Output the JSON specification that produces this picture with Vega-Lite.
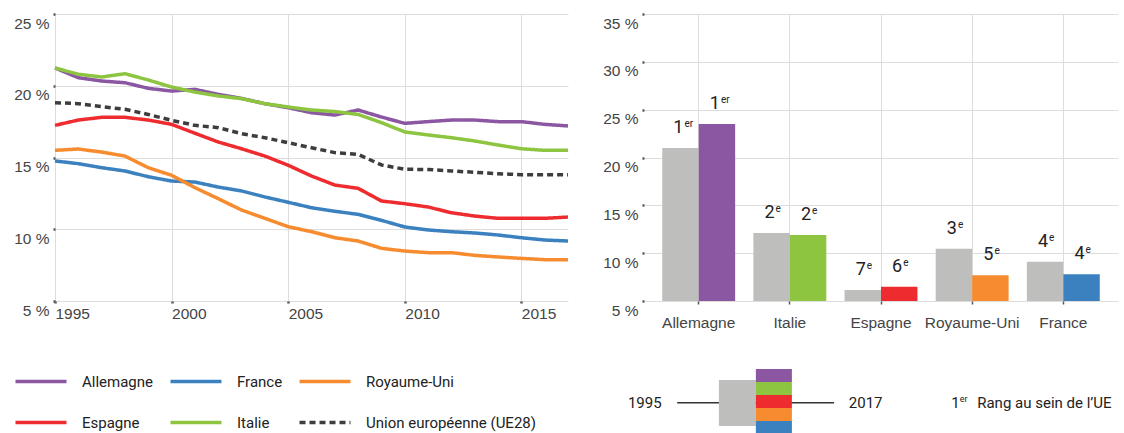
{
  "$schema": "https://vega.github.io/schema/vega-lite/v6.json",
  "background": "white",
  "padding": {"left": 13, "top": 12, "right": 4, "bottom": 0},
  "config": {
    "view": {"stroke": null},
    "axis": {
      "labelFont": "Liberation Sans",
      "labelFontSize": 15.5,
      "labelColor": "#444444",
      "gridColor": "#dddddd",
      "gridWidth": 1,
      "tickColor": "#555555",
      "domain": false,
      "title": null
    }
  },
  "datasets": {
    "lines": [
      {"year": 1995, "Allemagne": 21.24, "France": 14.76, "Royaume-Uni": 15.5, "Espagne": 17.24, "Italie": 21.24, "Union européenne (UE28)": 18.82},
      {"year": 1996, "Allemagne": 20.56, "France": 14.57, "Royaume-Uni": 15.59, "Espagne": 17.61, "Italie": 20.8, "Union européenne (UE28)": 18.75},
      {"year": 1997, "Allemagne": 20.33, "France": 14.29, "Royaume-Uni": 15.38, "Espagne": 17.8, "Italie": 20.61, "Union européenne (UE28)": 18.54},
      {"year": 1998, "Allemagne": 20.21, "France": 14.06, "Royaume-Uni": 15.1, "Espagne": 17.8, "Italie": 20.84, "Union européenne (UE28)": 18.36},
      {"year": 1999, "Allemagne": 19.82, "France": 13.66, "Royaume-Uni": 14.29, "Espagne": 17.61, "Italie": 20.4, "Union européenne (UE28)": 18.0},
      {"year": 2000, "Allemagne": 19.63, "France": 13.36, "Royaume-Uni": 13.76, "Espagne": 17.31, "Italie": 19.91, "Union européenne (UE28)": 17.59},
      {"year": 2001, "Allemagne": 19.75, "France": 13.29, "Royaume-Uni": 12.9, "Espagne": 16.69, "Italie": 19.56, "Union européenne (UE28)": 17.24},
      {"year": 2002, "Allemagne": 19.4, "France": 12.94, "Royaume-Uni": 12.13, "Espagne": 16.08, "Italie": 19.29, "Union européenne (UE28)": 17.08},
      {"year": 2003, "Allemagne": 19.12, "France": 12.67, "Royaume-Uni": 11.34, "Espagne": 15.61, "Italie": 19.1, "Union européenne (UE28)": 16.66},
      {"year": 2004, "Allemagne": 18.75, "France": 12.25, "Royaume-Uni": 10.76, "Espagne": 15.1, "Italie": 18.75, "Union européenne (UE28)": 16.38},
      {"year": 2005, "Allemagne": 18.47, "France": 11.88, "Royaume-Uni": 10.18, "Espagne": 14.46, "Italie": 18.52, "Union européenne (UE28)": 16.03},
      {"year": 2006, "Allemagne": 18.12, "France": 11.5, "Royaume-Uni": 9.83, "Espagne": 13.71, "Italie": 18.31, "Union européenne (UE28)": 15.68},
      {"year": 2007, "Allemagne": 17.96, "France": 11.25, "Royaume-Uni": 9.41, "Espagne": 13.08, "Italie": 18.2, "Union européenne (UE28)": 15.34},
      {"year": 2008, "Allemagne": 18.31, "France": 11.04, "Royaume-Uni": 9.18, "Espagne": 12.85, "Italie": 18.0, "Union européenne (UE28)": 15.22},
      {"year": 2009, "Allemagne": 17.82, "France": 10.62, "Royaume-Uni": 8.67, "Espagne": 11.97, "Italie": 17.43, "Union européenne (UE28)": 14.48},
      {"year": 2010, "Allemagne": 17.38, "France": 10.16, "Royaume-Uni": 8.48, "Espagne": 11.78, "Italie": 16.78, "Union européenne (UE28)": 14.18},
      {"year": 2011, "Allemagne": 17.5, "France": 9.95, "Royaume-Uni": 8.37, "Espagne": 11.55, "Italie": 16.57, "Union européenne (UE28)": 14.16},
      {"year": 2012, "Allemagne": 17.61, "France": 9.83, "Royaume-Uni": 8.37, "Espagne": 11.15, "Italie": 16.38, "Union européenne (UE28)": 14.06},
      {"year": 2013, "Allemagne": 17.61, "France": 9.74, "Royaume-Uni": 8.18, "Espagne": 10.92, "Italie": 16.15, "Union européenne (UE28)": 13.97},
      {"year": 2014, "Allemagne": 17.5, "France": 9.6, "Royaume-Uni": 8.07, "Espagne": 10.76, "Italie": 15.87, "Union européenne (UE28)": 13.87},
      {"year": 2015, "Allemagne": 17.5, "France": 9.41, "Royaume-Uni": 7.97, "Espagne": 10.76, "Italie": 15.61, "Union européenne (UE28)": 13.8},
      {"year": 2016, "Allemagne": 17.31, "France": 9.25, "Royaume-Uni": 7.88, "Espagne": 10.76, "Italie": 15.5, "Union européenne (UE28)": 13.8},
      {"year": 2017, "Allemagne": 17.2, "France": 9.18, "Royaume-Uni": 7.88, "Espagne": 10.85, "Italie": 15.5, "Union européenne (UE28)": 13.8}
    ],
    "bars": [
      {"country": "Allemagne", "period": "1995", "value": 21.0, "rank": "1", "suffix": "er"},
      {"country": "Allemagne", "period": "2017", "value": 23.5, "rank": "1", "suffix": "er"},
      {"country": "Italie", "period": "1995", "value": 12.1, "rank": "2", "suffix": "e"},
      {"country": "Italie", "period": "2017", "value": 11.9, "rank": "2", "suffix": "e"},
      {"country": "Espagne", "period": "1995", "value": 6.15, "rank": "7", "suffix": "e"},
      {"country": "Espagne", "period": "2017", "value": 6.5, "rank": "6", "suffix": "e"},
      {"country": "Royaume-Uni", "period": "1995", "value": 10.45, "rank": "3", "suffix": "e"},
      {"country": "Royaume-Uni", "period": "2017", "value": 7.7, "rank": "5", "suffix": "e"},
      {"country": "France", "period": "1995", "value": 9.1, "rank": "4", "suffix": "e"},
      {"country": "France", "period": "2017", "value": 7.8, "rank": "4", "suffix": "e"}
    ]
  },
  "resolve": {"scale": {"color": "independent"}},
  "spacing": 32,
  "hconcat": [
    {
      "width": 513,
      "height": 287,
      "data": {"name": "lines"},
      "transform": [
        {"fold": ["Allemagne", "France", "Royaume-Uni", "Espagne", "Italie", "Union européenne (UE28)"], "as": ["country", "value"]}
      ],
      "mark": {"type": "line", "strokeWidth": 3.5, "strokeJoin": "round"},
      "encoding": {
        "x": {
          "field": "year", "type": "quantitative",
          "scale": {"domain": [1995, 2017], "nice": false, "zero": false},
          "axis": {"values": [1995, 2000, 2005, 2010, 2015], "format": "d", "labelAlign": "left", "labelFlush": false, "labelBaseline": "top", "tickSize": 2, "tickWidth": 2.5, "labelPadding": 3, "grid": true}
        },
        "y": {
          "field": "value", "type": "quantitative",
          "scale": {"domain": [5, 25], "nice": false, "zero": false},
          "axis": {"values": [5, 10, 15, 20, 25], "labelExpr": "datum.value + ' %'", "labelBaseline": "top", "labelOffset": 2, "tickSize": 2, "tickWidth": 2.5, "labelPadding": 4, "grid": true}
        },
        "color": {
          "field": "country", "type": "nominal",
          "scale": {
            "domain": ["Allemagne", "France", "Royaume-Uni", "Espagne", "Italie", "Union européenne (UE28)"],
            "range": ["#8B56A2", "#3B80BF", "#F68B2F", "#EE2C30", "#8DC540", "#3d3d3d"]
          },
          "legend": {
            "title": null, "orient": "none", "legendX": -26, "legendY": 355.5, "columns": 3, "direction": "horizontal",
            "symbolType": "M-2.5,0H2.5", "symbolSize": 416, "symbolStrokeWidth": 3.5,
            "labelFont": "Roboto, sans-serif", "labelFontSize": 15, "labelColor": "#222222", "labelLimit": 400,
            "labelOffset": 29, "columnPadding": 9, "rowPadding": 21, "padding": 0,
            "encode": {"symbols": {"update": {"strokeDash": {"signal": "datum.value === 'Union européenne (UE28)' ? [6, 4] : [1, 0]"}}}}
          }
        },
        "strokeDash": {
          "field": "country", "type": "nominal",
          "scale": {
            "domain": ["Allemagne", "France", "Royaume-Uni", "Espagne", "Italie", "Union européenne (UE28)"],
            "range": [[1, 0], [1, 0], [1, 0], [1, 0], [1, 0], [6, 4]]
          },
          "legend": null
        }
      }
    },
    {
      "spacing": 38,
      "vconcat": [
        {
          "width": 474,
          "height": 287,
          "data": {"name": "bars"},
          "encoding": {
            "x": {
              "field": "country", "type": "nominal",
              "sort": ["Allemagne", "Italie", "Espagne", "Royaume-Uni", "France"],
              "scale": {"paddingInner": 0.2, "paddingOuter": 0.2},
              "axis": {"labelAngle": 0, "tickSize": 3, "tickWidth": 1.5, "labelPadding": 11, "grid": true, "labelBaseline": "top"}
            },
            "xOffset": {"field": "period", "type": "nominal", "scale": {"paddingInner": 0, "paddingOuter": 0}},
            "y": {
              "field": "value", "type": "quantitative",
              "scale": {"domain": [5, 35], "nice": false, "zero": false},
              "axis": {"values": [5, 10, 15, 20, 25, 30, 35], "labelExpr": "datum.value + ' %'", "labelBaseline": "top", "labelOffset": 2, "tickSize": 2, "tickWidth": 2.5, "labelPadding": 4, "grid": true}
            }
          },
          "layer": [
            {
              "mark": {"type": "bar"},
              "encoding": {
                "y2": {"datum": 5},
                "color": {
                  "condition": {"test": "datum.period === '1995'", "value": "#BEBEBC"},
                  "field": "country", "type": "nominal",
                  "scale": {
                    "domain": ["Allemagne", "Italie", "Espagne", "Royaume-Uni", "France"],
                    "range": ["#8B56A2", "#8DC540", "#EE2C30", "#F68B2F", "#3B80BF"]
                  },
                  "legend": null
                }
              }
            },
            {
              "mark": {"type": "text", "align": "right", "baseline": "alphabetic", "dx": 3, "dy": -15, "font": "Roboto, sans-serif", "fontSize": 18, "color": "#222222"},
              "encoding": {"text": {"field": "rank"}}
            },
            {
              "mark": {"type": "text", "align": "left", "baseline": "alphabetic", "dx": 4, "dy": -21, "font": "Roboto, sans-serif", "fontSize": 10, "color": "#222222"},
              "encoding": {"text": {"field": "suffix"}}
            }
          ]
        },
        {
          "width": 474,
          "height": 65,
          "encoding": {
            "x": {"type": "quantitative", "scale": {"domain": [0, 100], "nice": false, "zero": false}, "axis": null},
            "y": {"type": "quantitative", "scale": {"domain": [0, 5], "nice": false, "zero": false}, "axis": null}
          },
          "layer": [
            {
              "data": {"values": [{"start": 7, "end": 40.1, "level": 2.4}]},
              "mark": {"type": "rule", "color": "#333333", "strokeWidth": 1.5},
              "encoding": {
                "x": {"field": "start", "type": "quantitative"},
                "x2": {"field": "end"},
                "y": {"field": "level", "type": "quantitative"}
              }
            },
            {
              "data": {"values": [{"start": 15.8, "end": 23.6, "lo": 0.62, "hi": 4.15}]},
              "mark": {"type": "rect", "color": "#BEBEBC"},
              "encoding": {
                "x": {"field": "start", "type": "quantitative"},
                "x2": {"field": "end"},
                "y": {"field": "lo", "type": "quantitative"},
                "y2": {"field": "hi"}
              }
            },
            {
              "data": {"values": [
                {"country": "Allemagne", "start": 23.6, "end": 31.2, "lo": 4, "hi": 5},
                {"country": "Italie", "start": 23.6, "end": 31.2, "lo": 3, "hi": 4},
                {"country": "Espagne", "start": 23.6, "end": 31.2, "lo": 2, "hi": 3},
                {"country": "Royaume-Uni", "start": 23.6, "end": 31.2, "lo": 1, "hi": 2},
                {"country": "France", "start": 23.6, "end": 31.2, "lo": 0, "hi": 1}
              ]},
              "mark": {"type": "rect"},
              "encoding": {
                "x": {"field": "start", "type": "quantitative"},
                "x2": {"field": "end"},
                "y": {"field": "lo", "type": "quantitative"},
                "y2": {"field": "hi"},
                "color": {
                  "field": "country", "type": "nominal",
                  "scale": {
                    "domain": ["Allemagne", "Italie", "Espagne", "Royaume-Uni", "France"],
                    "range": ["#8B56A2", "#8DC540", "#EE2C30", "#F68B2F", "#3B80BF"]
                  },
                  "legend": null
                }
              }
            },
            {
              "data": {"values": [
                {"label": "1995", "pos": -3.4, "level": 2.4},
                {"label": "2017", "pos": 43.2, "level": 2.4},
                {"label": "1", "pos": 64.8, "level": 2.4},
                {"label": "Rang au sein de l’UE", "pos": 70.3, "level": 2.4}
              ]},
              "mark": {"type": "text", "align": "left", "baseline": "middle", "font": "Roboto, sans-serif", "fontSize": 15, "color": "#222222"},
              "encoding": {
                "x": {"field": "pos", "type": "quantitative"},
                "y": {"field": "level", "type": "quantitative"},
                "text": {"field": "label"}
              }
            },
            {
              "data": {"values": [{"label": "er", "pos": 66.6, "level": 2.4}]},
              "mark": {"type": "text", "align": "left", "baseline": "middle", "dy": -4, "font": "Roboto, sans-serif", "fontSize": 9, "color": "#222222"},
              "encoding": {
                "x": {"field": "pos", "type": "quantitative"},
                "y": {"field": "level", "type": "quantitative"},
                "text": {"field": "label"}
              }
            }
          ]
        }
      ]
    }
  ]
}
